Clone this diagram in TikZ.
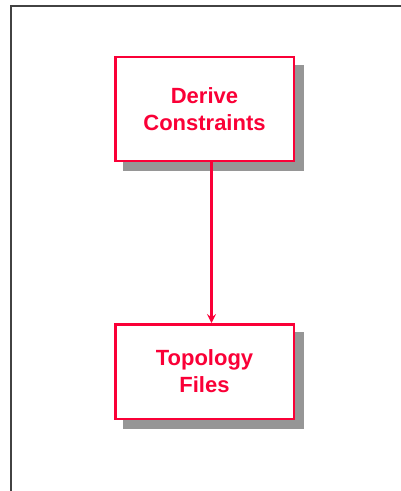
\documentclass[tikz,border=0pt]{standalone}
\usepackage{fontspec}
\setmainfont{Liberation Sans}
\usepackage{tikz}
\usetikzlibrary{positioning,arrows.meta,backgrounds}
\definecolor{boxred}{RGB}{250,0,55}
\definecolor{shadowgray}{RGB}{150,150,150}
\definecolor{framegray}{RGB}{66,66,66}

\begin{document}
\begin{tikzpicture}[x=1pt,y=-1pt,
		stepbox/.style={draw=boxred, line width=2.5pt, fill=white, text=boxred,
			minimum width=178.5pt, align=center,
			font=\fontsize{22}{27}\selectfont\bfseries},
		flow/.style={draw=boxred, line width=2.2pt, -{Stealth[length=9pt,width=9pt,inset=3.5pt]}}]
		\useasboundingbox (0,0) rectangle (400,491);
		\draw[framegray, line width=2pt] (11,6) rectangle (420,520);   % frame

		\node[stepbox, minimum height=103.7pt] (derive) at (204.5,109) {Derive\\Constraints};
		\node[stepbox, minimum height=94.5pt] (topo) at (204.5,371.5) {Topology\\Files};

		\begin{scope}[on background layer]                           % shadows
			\foreach \n in {derive,topo}
				\fill[shadowgray] ([shift={(9,9)}]\n.north west) rectangle ([shift={(9,9)}]\n.south east);
		\end{scope}

		\draw[flow] ([xshift=7pt]derive.south) -- ([xshift=7pt]topo.north);
\end{tikzpicture}
\end{document}
